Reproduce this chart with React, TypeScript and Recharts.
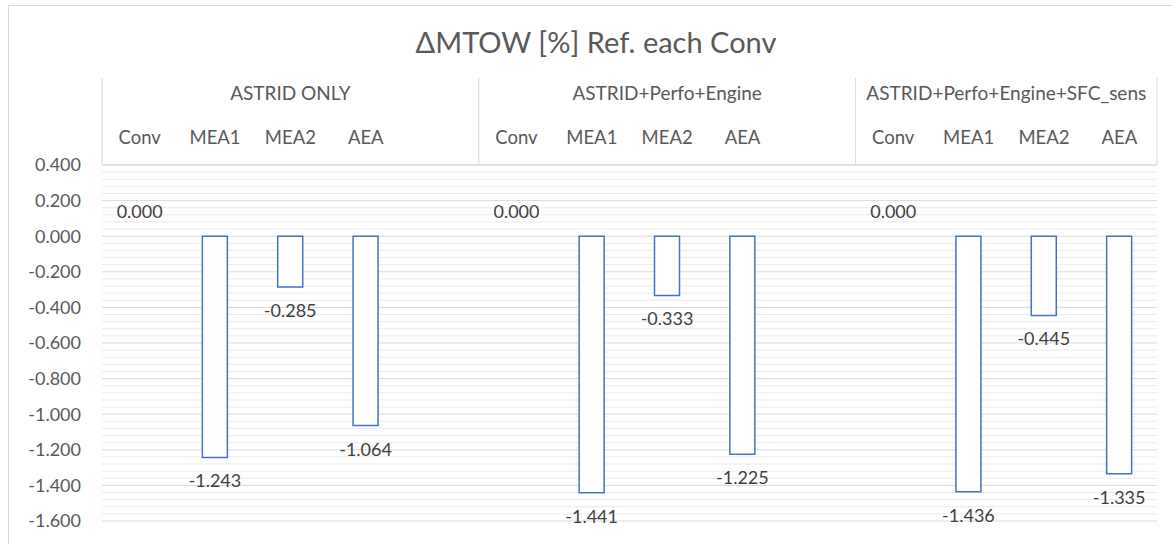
import React from "react";
import { ComposedChart, Bar, Line, XAxis, YAxis, CartesianGrid, LabelList } from "recharts";

const groups = ["ASTRID ONLY", "ASTRID+Perfo+Engine", "ASTRID+Perfo+Engine+SFC_sens"];
const configs = ["Conv", "MEA1", "MEA2", "AEA"];
const astridOnly = [0, -1.243, -0.285, -1.064];
const perfoEngine = [0, -1.441, -0.333, -1.225];
const sfcSens = [0, -1.436, -0.445, -1.335];
const yTicks = [0.4, 0.2, 0, -0.2, -0.4, -0.6, -0.8, -1.0, -1.2, -1.4, -1.6];

const W = 1172;
const H = 544;
const M = { top: 78, right: 15, bottom: 23, left: 20 };
const Y_W = 82;
const CAT_H = 45;
const GRP_H = 42;
const FONT = "Lato, 'Open Sans', sans-serif";
const TXT = "#595959";
const LINE = "#d9d9d9";
const BLUE = "#4472C4";

type Row = { key: string; cat: string; grp: string; gi: number; first: boolean; last: boolean; v: number | null };

const seriesByGroup = [astridOnly, perfoEngine, sfcSens];
const rows: Row[] = [];
groups.forEach((g, gi) => {
  const vals = seriesByGroup[gi];
  configs.forEach((c, ci) => {
    rows.push({ key: g + "|" + c, cat: c, grp: g, gi, first: ci === 0, last: false, v: vals[ci] });
  });
  // Excel sheet had an empty column after the first two blocks
  if (gi < groups.length - 1) rows.push({ key: g + "|gap", cat: "", grp: g, gi, first: false, last: false, v: null });
});
rows[rows.length - 1].last = true;

const groupSize = groups.map((_, gi) => rows.filter((r) => r.gi === gi).length);

// minor gridlines every 0.04 between the major ticks
const minorLines: number[] = [];
for (let i = 0; i <= 50; i++) if (i % 5 !== 0) minorLines.push(+(0.4 - i * 0.04).toFixed(2));

const plotW = W - M.left - M.right - Y_W;
const band = plotW / rows.length;

function CatTick(props: any) {
  const { x, y, index } = props;
  const r = rows[index];
  if (!r || !r.cat) return null;
  return (
    <text x={x} y={y - 21} textAnchor="middle" fill={TXT} fontSize={18.5} fontFamily={FONT}>
      {r.cat}
    </text>
  );
}

function GrpTick(props: any) {
  const { x, y, index } = props;
  const r = rows[index];
  if (!r) return null;
  const left = x - band / 2;
  const n = groupSize[r.gi];
  return (
    <g>
      {r.first && (
        <>
          <line x1={left} x2={left} y1={y - GRP_H} y2={y + CAT_H} stroke={LINE} />
          <text x={left + (n * band) / 2} y={y - 20} textAnchor="middle" fill={TXT} fontSize={19} fontFamily={FONT}>
            {r.grp}
          </text>
        </>
      )}
      {r.last && <line x1={x + band / 2} x2={x + band / 2} y1={y - GRP_H} y2={y + CAT_H} stroke={LINE} />}
    </g>
  );
}

function NegLabel(props: any) {
  const { x, y, width, height, value } = props;
  if (value === null || value === undefined || value >= 0) return null;
  const bottom = Math.max(y, y + height);
  return (
    <text x={x + width / 2} y={bottom + 24} dy={6} textAnchor="middle" fill="#404040" fontSize={18} fontFamily={FONT}>
      {Number(value).toFixed(3)}
    </text>
  );
}

// zero-height bars get no label from the Bar, so the 0.000 labels ride on an invisible line
function ZeroLabel(props: any) {
  const { x, y, value } = props;
  if (value !== 0) return null;
  return (
    <text x={x} y={y - 24} dy={6} textAnchor="middle" fill="#404040" fontSize={18} fontFamily={FONT}>
      {Number(value).toFixed(3)}
    </text>
  );
}

export default function App() {
  return (
    <div style={{ position: "absolute", left: 0, top: 0, width: W, height: H, background: "#fff", fontFamily: FONT }}>
      <div style={{ position: "absolute", left: 8, top: 5, right: 0, bottom: 0, borderTop: "1px solid " + LINE, borderLeft: "1px solid " + LINE }} />
      <div style={{ position: "absolute", left: 0, top: 24, width: W + 20, textAlign: "center", fontSize: 29, color: TXT }}>
        ΔMTOW [%] Ref. each Conv
      </div>
      <div style={{ position: "absolute", left: 0, top: 0 }}>
        <ComposedChart width={W} height={H} data={rows} margin={M} barSize={25}>
          <CartesianGrid horizontalValues={minorLines} vertical={false} stroke="#ebebeb" />
          <CartesianGrid horizontalValues={yTicks} vertical={false} stroke={LINE} />
          <XAxis xAxisId="cat" dataKey="key" orientation="top" height={CAT_H} interval={0}
            axisLine={{ stroke: LINE }} tickLine={false} tickSize={0} tickMargin={0} tick={<CatTick />} />
          <XAxis xAxisId="grp" dataKey="key" orientation="top" height={GRP_H} interval={0}
            axisLine={false} tickLine={false} tickSize={0} tickMargin={0} tick={<GrpTick />} />
          <YAxis domain={[-1.6, 0.4]} ticks={yTicks} interval={0} width={Y_W} axisLine={false} tickLine={false}
            tickSize={0} tickMargin={21} tickFormatter={(v: number) => v.toFixed(3)}
            tick={{ fill: TXT, fontSize: 18, fontFamily: FONT }} />
          <Bar xAxisId="cat" dataKey="v" fill="#ffffff" stroke={BLUE} strokeWidth={1.5} isAnimationActive={false}>
            <LabelList dataKey="v" content={<NegLabel />} />
          </Bar>
          <Line xAxisId="cat" dataKey="v" stroke="none" dot={false} activeDot={false} isAnimationActive={false}>
            <LabelList dataKey="v" content={<ZeroLabel />} />
          </Line>
        </ComposedChart>
      </div>
    </div>
  );
}
